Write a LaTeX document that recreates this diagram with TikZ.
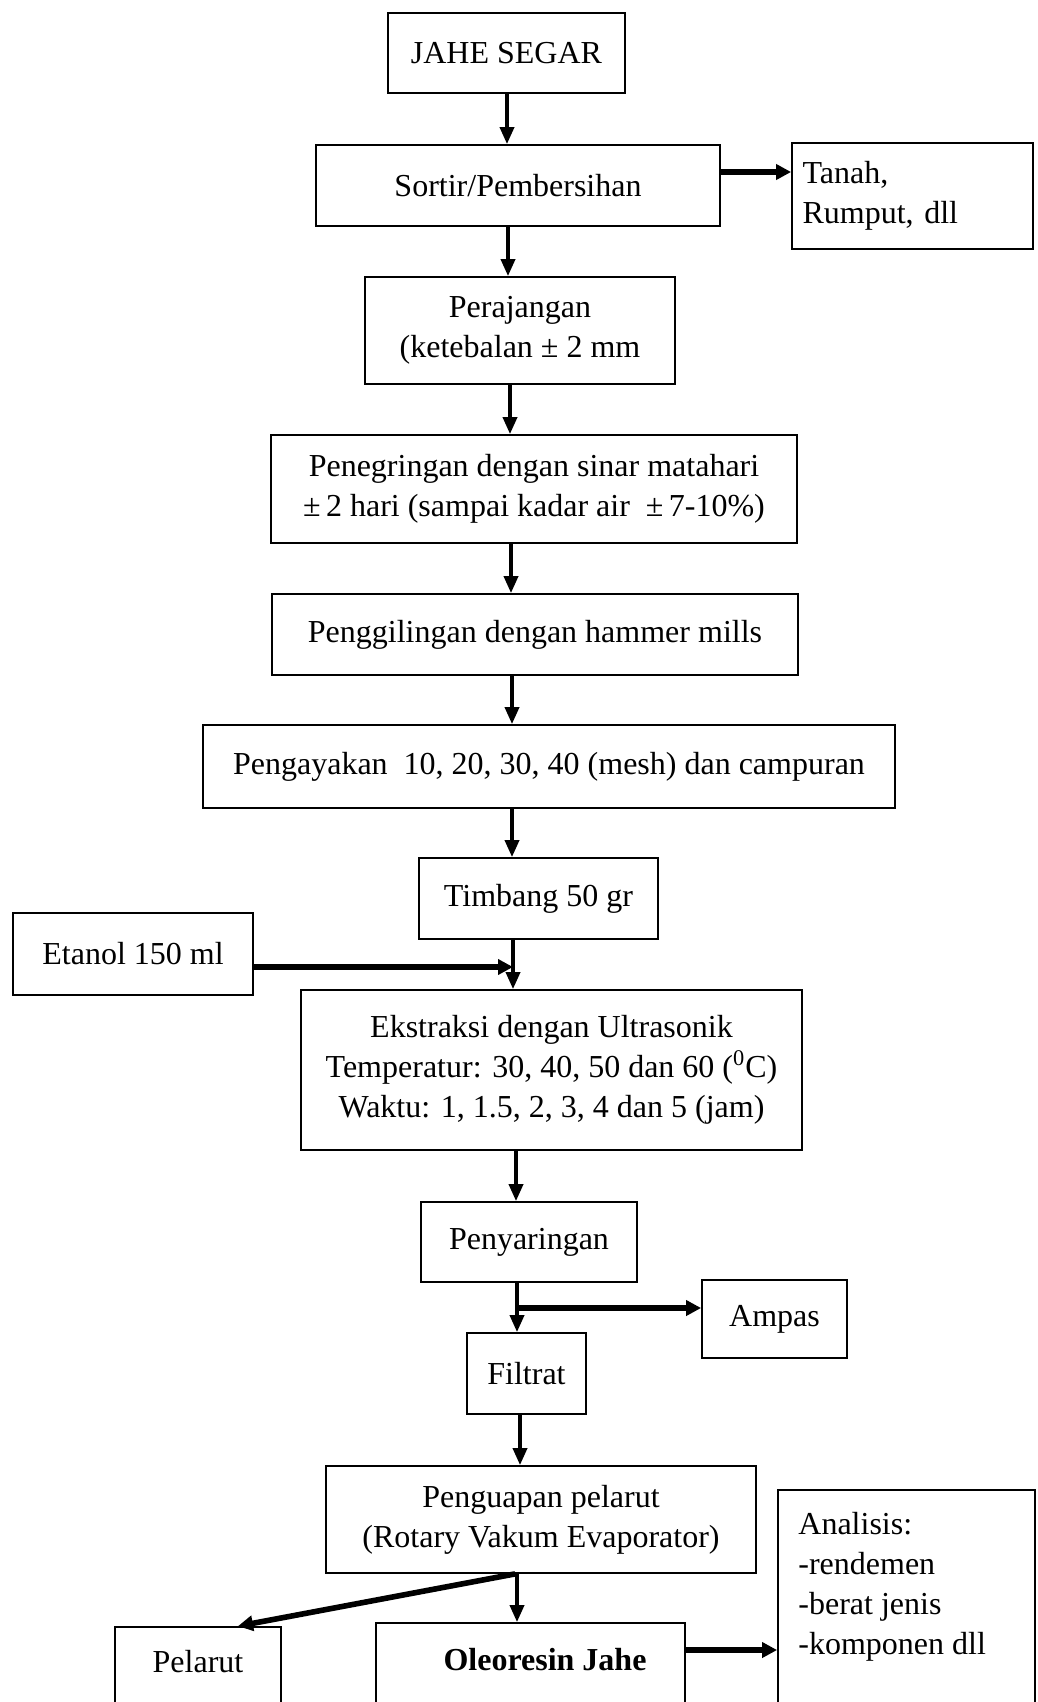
\documentclass[tikz,border=0pt]{standalone}
\usepackage{fontspec}
\setmainfont{Liberation Serif}
\usetikzlibrary{arrows.meta}
\begin{document}
\begin{tikzpicture}[x=0.5pt,y=-0.5pt,
  every node/.style={font=\fontsize{16pt}{20pt}\selectfont},
  box/.style={draw, line width=0.9pt, inner sep=0pt, align=center},
  txt/.style={inner sep=0pt, align=left},
  arr/.style={line width=1.8pt, -{Triangle[length=8.5pt,width=7pt]}},
  harr/.style={line width=2.8pt, -{Triangle[length=7.5pt,width=7.5pt]}}]
\useasboundingbox (0,0) rectangle (1038,1702);
\clip (0,0) rectangle (1038,1702);
\fill[white] (0,0) rectangle (1038,1702);

\node[box, minimum width=118.5pt, minimum height=40pt] (j) at (506.5,53) {JAHE SEGAR};
\node[box, minimum width=202pt, minimum height=40.5pt] (s) at (518,185.5) {Sortir/Pembersihan};
\node[box, minimum width=120.5pt, minimum height=53pt, text width=110pt, align=left] (t) at (912.5,196) {Tanah,\\Rumput, dll};
\node[box, minimum width=155pt, minimum height=53.5pt] (p) at (520,330.5) {Perajangan\\(ketebalan ±\ 2 mm};
\node[box, minimum width=263pt, minimum height=54pt] (pe) at (534,489) {Penegringan dengan sinar matahari\\±\,2 hari (sampai kadar air \ ±\,7-10\%)};
\node[box, minimum width=263pt, minimum height=40.5pt] (pg) at (535,634.5) {Penggilingan dengan hammer mills};
\node[box, minimum width=346pt, minimum height=41.5pt] (pa) at (549,766.5) {Pengayakan\ \ 10, 20, 30, 40 (mesh) dan campuran};
\node[box, minimum width=119.5pt, minimum height=40.5pt] (ti) at (538.5,898.5) {Timbang 50 gr};
\node[box, minimum width=120pt, minimum height=41pt] (et) at (133,954) {Etanol 150 ml};
\node[box, minimum width=250.5pt, minimum height=80pt] (ek) at (551.5,1070) {Ekstraksi dengan Ultrasonik\\Temperatur: 30, 40, 50 dan 60 (\textsuperscript{0}C)\\Waktu: 1, 1.5, 2, 3, 4 dan 5 (jam)};
\node[box, minimum width=108pt, minimum height=40pt] (py) at (529,1242) {Penyaringan};
\node[box, minimum width=72.5pt, minimum height=39pt] (am) at (774.5,1319) {Ampas};
\node[box, minimum width=59.5pt, minimum height=40.5pt] (fi) at (526.5,1373.5) {Filtrat};
\node[box, minimum width=215pt, minimum height=53.5pt] (pu) at (541,1519.5) {Penguapan pelarut\\(Rotary Vakum Evaporator)};

\node[box, minimum width=128.5pt, minimum height=125pt] (an) at (906.5,1615) {};
\node[txt, anchor=west] (ant) at (798,1587) {Analisis:\\-rendemen\\-berat jenis\\-komponen dll};
\node[box, minimum width=83pt, minimum height=60pt] (pl) at (198,1687) {};
\node[txt] (plt) at (198,1662) {Pelarut};
\node[box, minimum width=154.5pt, minimum height=60pt] (ol) at (530.5,1683) {};
\node[txt, font=\fontsize{16pt}{20pt}\selectfont\bfseries] (olt) at (545,1660) {Oleoresin Jahe};

\draw[arr] (507,0 |- j.south) -- (507,0 |- s.north);
\draw[arr] (508,0 |- s.south) -- (508,0 |- p.north);
\draw[arr] (510,0 |- p.south) -- (510,0 |- pe.north);
\draw[arr] (511,0 |- pe.south) -- (511,0 |- pg.north);
\draw[arr] (512,0 |- pg.south) -- (512,0 |- pa.north);
\draw[arr] (512,0 |- pa.south) -- (512,0 |- ti.north);
\draw[arr] (513,0 |- ti.south) -- (513,0 |- ek.north);
\coordinate (etin) at (513,967);
\draw[harr] (et.east |- etin) -- (etin);
\draw[arr] (516,0 |- ek.south) -- (516,0 |- py.north);
\draw[arr] (517,0 |- py.south) -- (517,0 |- fi.north);
\coordinate (br) at (517,1308);
\draw[harr] (br) -- (am.west |- br);
\draw[arr] (520,0 |- fi.south) -- (520,0 |- pu.north);
\draw[arr] (517,0 |- pu.south) -- (517,0 |- ol.north);
\draw[harr] (515,0 |- pu.south) -- (238,0 |- pl.north);
\coordinate (st) at (0,172);
\draw[harr] (s.east |- st) -- (t.west |- st);
\coordinate (oa) at (0,1650);
\draw[harr] (ol.east |- oa) -- (an.west |- oa);
\end{tikzpicture}
\end{document}
